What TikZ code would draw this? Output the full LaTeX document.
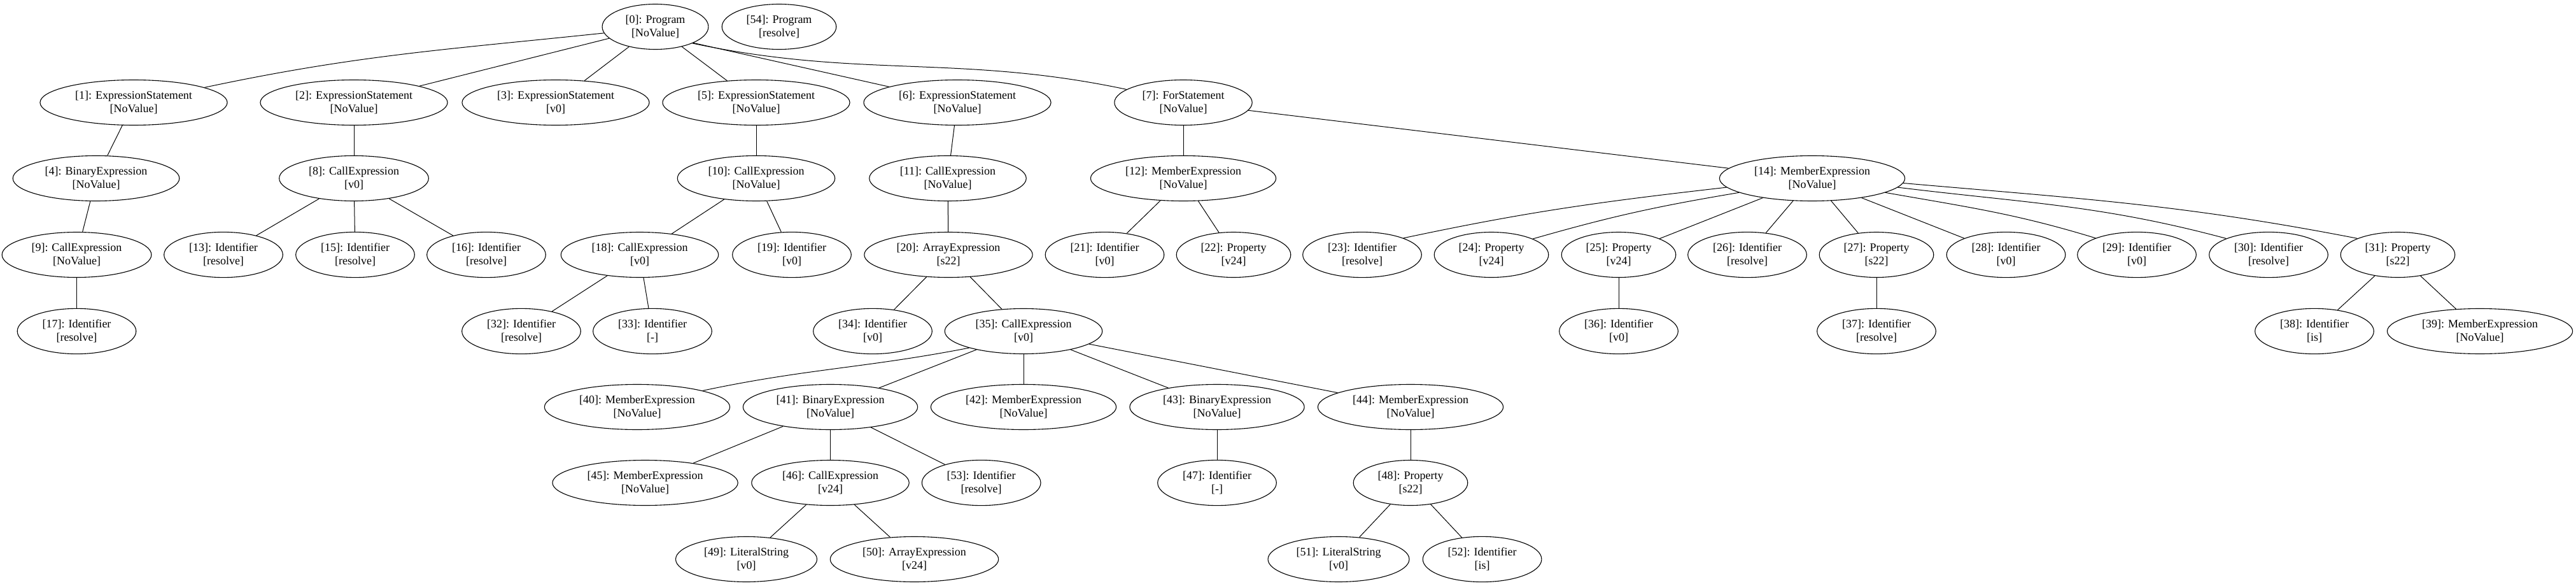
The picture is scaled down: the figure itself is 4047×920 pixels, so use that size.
\documentclass[tikz,border=0pt]{standalone}
\usepackage{fontspec}
\setmainfont{Liberation Serif}
\usepackage{tikz}
\usetikzlibrary{arrows,shapes,positioning}

\begin{document}
\begin{tikzpicture}[x=1pt, y=1pt,
        astnode/.style={draw, ellipse, line width=1.1pt, align=center, inner xsep=12pt, inner ysep=7.5pt, font=\fontsize{18}{20.3}\selectfont},
        astedge/.style={line width=1pt}]
            \useasboundingbox (0,0) rectangle (4047,-920);

            \node[astnode] (n0) at (1029.5,-42) {[0]: Program\\{}[NoValue]};
            \node[astnode] (n54) at (1224,-42) {[54]: Program\\{}[resolve]};

            \node[astnode] (n1) at (210,-161) {[1]: ExpressionStatement\\{}[NoValue]};
            \node[astnode] (n2) at (556,-161) {[2]: ExpressionStatement\\{}[NoValue]};
            \node[astnode] (n3) at (873,-161) {[3]: ExpressionStatement\\{}[v0]};
            \node[astnode] (n5) at (1188,-161) {[5]: ExpressionStatement\\{}[NoValue]};
            \node[astnode] (n6) at (1504,-161) {[6]: ExpressionStatement\\{}[NoValue]};
            \node[astnode] (n7) at (1859,-161) {[7]: ForStatement\\{}[NoValue]};

            \node[astnode] (n4) at (151,-280) {[4]: BinaryExpression\\{}[NoValue]};
            \node[astnode] (n8) at (556,-280) {[8]: CallExpression\\{}[v0]};
            \node[astnode] (n10) at (1188,-280) {[10]: CallExpression\\{}[NoValue]};
            \node[astnode] (n11) at (1489,-280) {[11]: CallExpression\\{}[NoValue]};
            \node[astnode] (n12) at (1859,-280) {[12]: MemberExpression\\{}[NoValue]};
            \node[astnode] (n14) at (2847,-280) {[14]: MemberExpression\\{}[NoValue]};

            \node[astnode] (n9) at (120.5,-400) {[9]: CallExpression\\{}[NoValue]};
            \node[astnode] (n13) at (351,-400) {[13]: Identifier\\{}[resolve]};
            \node[astnode] (n15) at (558,-400) {[15]: Identifier\\{}[resolve]};
            \node[astnode] (n16) at (764,-400) {[16]: Identifier\\{}[resolve]};
            \node[astnode] (n18) at (1005,-400) {[18]: CallExpression\\{}[v0]};
            \node[astnode] (n19) at (1244,-400) {[19]: Identifier\\{}[v0]};
            \node[astnode] (n20) at (1490,-400) {[20]: ArrayExpression\\{}[s22]};
            \node[astnode] (n21) at (1735.5,-400) {[21]: Identifier\\{}[v0]};
            \node[astnode] (n22) at (1938,-400) {[22]: Property\\{}[v24]};
            \node[astnode] (n23) at (2140,-400) {[23]: Identifier\\{}[resolve]};
            \node[astnode] (n24) at (2343,-400) {[24]: Property\\{}[v24]};
            \node[astnode] (n25) at (2543,-400) {[25]: Property\\{}[v24]};
            \node[astnode] (n26) at (2745,-400) {[26]: Identifier\\{}[resolve]};
            \node[astnode] (n27) at (2948,-400) {[27]: Property\\{}[s22]};
            \node[astnode] (n28) at (3151.5,-400) {[28]: Identifier\\{}[v0]};
            \node[astnode] (n29) at (3357,-400) {[29]: Identifier\\{}[v0]};
            \node[astnode] (n30) at (3564,-400) {[30]: Identifier\\{}[resolve]};
            \node[astnode] (n31) at (3767,-400) {[31]: Property\\{}[s22]};

            \node[astnode] (n17) at (120.5,-520) {[17]: Identifier\\{}[resolve]};
            \node[astnode] (n32) at (819,-520) {[32]: Identifier\\{}[resolve]};
            \node[astnode] (n33) at (1025,-520) {[33]: Identifier\\{}[-]};
            \node[astnode] (n34) at (1371,-520) {[34]: Identifier\\{}[v0]};
            \node[astnode] (n35) at (1608,-520) {[35]: CallExpression\\{}[v0]};
            \node[astnode] (n36) at (2543,-520) {[36]: Identifier\\{}[v0]};
            \node[astnode] (n37) at (2948,-520) {[37]: Identifier\\{}[resolve]};
            \node[astnode] (n38) at (3636,-520) {[38]: Identifier\\{}[is]};
            \node[astnode] (n39) at (3896,-520) {[39]: MemberExpression\\{}[NoValue]};

            \node[astnode] (n40) at (1001,-639) {[40]: MemberExpression\\{}[NoValue]};
            \node[astnode] (n41) at (1304.5,-639) {[41]: BinaryExpression\\{}[NoValue]};
            \node[astnode] (n42) at (1608,-639) {[42]: MemberExpression\\{}[NoValue]};
            \node[astnode] (n43) at (1912,-639) {[43]: BinaryExpression\\{}[NoValue]};
            \node[astnode] (n44) at (2216,-639) {[44]: MemberExpression\\{}[NoValue]};

            \node[astnode] (n45) at (1013.6,-758) {[45]: MemberExpression\\{}[NoValue]};
            \node[astnode] (n46) at (1304.5,-758) {[46]: CallExpression\\{}[v24]};
            \node[astnode] (n53) at (1541.7,-758) {[53]: Identifier\\{}[resolve]};
            \node[astnode] (n47) at (1912,-758) {[47]: Identifier\\{}[-]};
            \node[astnode] (n48) at (2216,-758) {[48]: Property\\{}[s22]};

            \node[astnode] (n49) at (1172.5,-878) {[49]: LiteralString\\{}[v0]};
            \node[astnode] (n50) at (1436.5,-878) {[50]: ArrayExpression\\{}[v24]};
            \node[astnode] (n51) at (2103,-878) {[51]: LiteralString\\{}[v0]};
            \node[astnode] (n52) at (2328.6,-878) {[52]: Identifier\\{}[is]};

            \draw[astedge] (n0.187) to[out=186, in=12] (n1.12);
            \draw[astedge] (n0) -- (n2);
            \draw[astedge] (n0) -- (n3);
            \draw[astedge] (n0) -- (n5);
            \draw[astedge] (n0.-23) -- (n6.167);
            \draw[astedge] (n0.-24) to[out=-12, in=168] (n7.167);

            \draw[astedge] (n1) -- (n4);
            \draw[astedge] (n4) -- (n9);
            \draw[astedge] (n9) -- (n17);
            \draw[astedge] (n2) -- (n8);
            \draw[astedge] (n8) -- (n13);
            \draw[astedge] (n8) -- (n15);
            \draw[astedge] (n8) -- (n16);
            \draw[astedge] (n5) -- (n10);
            \draw[astedge] (n10) -- (n18);
            \draw[astedge] (n10) -- (n19);
            \draw[astedge] (n18) -- (n32);
            \draw[astedge] (n18) -- (n33);
            \draw[astedge] (n6) -- (n11);
            \draw[astedge] (n11) -- (n20);
            \draw[astedge] (n20) -- (n34);
            \draw[astedge] (n20) -- (n35);

            \draw[astedge] (n35.197) to[out=191, in=12] (n40.14);
            \draw[astedge] (n35) -- (n41);
            \draw[astedge] (n35) -- (n42);
            \draw[astedge] (n35) -- (n43);
            \draw[astedge] (n35) -- (n44);
            \draw[astedge] (n41) -- (n45);
            \draw[astedge] (n41) -- (n46);
            \draw[astedge] (n41) -- (n53);
            \draw[astedge] (n46) -- (n49);
            \draw[astedge] (n46) -- (n50);
            \draw[astedge] (n43) -- (n47);
            \draw[astedge] (n44) -- (n48);
            \draw[astedge] (n48) -- (n51);
            \draw[astedge] (n48) -- (n52);

            \draw[astedge] (n7) -- (n12);
            \draw[astedge] (n7) -- (n14);
            \draw[astedge] (n12) -- (n21);
            \draw[astedge] (n12) -- (n22);

            \draw[astedge] (n14.186) to[out=186.5, in=12] (n23.22);
            \draw[astedge] (n14.191) to[out=189.5, in=16] (n24.21);
            \draw[astedge] (n14) -- (n25);
            \draw[astedge] (n14) -- (n26);
            \draw[astedge] (n14) -- (n27);
            \draw[astedge] (n14) -- (n28);
            \draw[astedge] (n14.-11) to[out=-10, in=163] (n29.158);
            \draw[astedge] (n14.-6) to[out=-7, in=165] (n30.159);
            \draw[astedge] (n14.-3) to[out=-5, in=169] (n31.158);
            \draw[astedge] (n25) -- (n36);
            \draw[astedge] (n27) -- (n37);
            \draw[astedge] (n31) -- (n38);
            \draw[astedge] (n31) -- (n39);
        \end{tikzpicture}
\end{document}
